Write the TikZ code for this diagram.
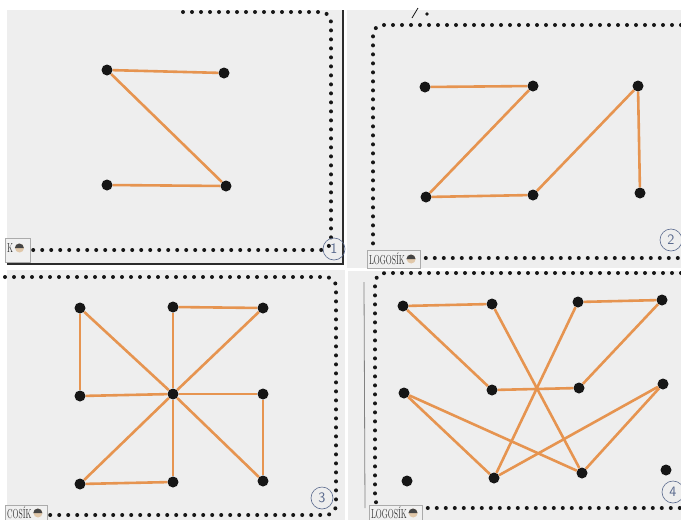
\documentclass[tikz,border=0pt]{standalone}
\usepackage{fontspec}
\usepackage{tikz}
\usetikzlibrary{positioning}
\usepackage{xcolor}
\definecolor{DG}{RGB}{22,22,22}
\definecolor{OR}{RGB}{230,148,80}
\definecolor{CW}{RGB}{238,238,238}
\definecolor{Pen}{RGB}{88,104,140}
\definecolor{Edge}{RGB}{45,45,45}
\definecolor{Skin}{RGB}{225,200,170}
\newcommand{\logotext}[1]{\scalebox{0.6}[1]{\fontsize{13}{13}\selectfont #1}}

\begin{document}
\begin{tikzpicture}[x=1pt, y=-1pt,
  card/.style={fill=CW, draw=none},
  border/.style={draw=DG, line width=4pt, line cap=round,
                 dash pattern=on 0pt off 9pt, rounded corners=10pt},
  dot/.style={circle, fill=DG, inner sep=0pt, minimum size=11pt},
  rope/.style={draw=OR, line width=2.6pt},
  num/.style={circle, draw=Pen, semithick, inner sep=0.5pt, minimum size=22pt,
              text=Pen, font=\sffamily\Large},
  logo/.style={inner sep=1pt, text=Edge},
  face/.style={circle, fill=Skin, inner sep=0pt, minimum size=9pt}
]
\useasboundingbox (0,0) rectangle (681,520);
\fill[white] (0,0) rectangle (681,520);

% Cards
\fill[card] (7,10) rectangle (343,264);
\fill[card] (347,10) rectangle (681,268);
\fill[card] (7,270) rectangle (345,520);
\fill[card] (348,271) rectangle (681,520);
\draw[Edge, line width=1.4pt] (7,264) -- (343,264) -- (343,10);
\draw[Edge!60, line width=0.8pt] (364,282) -- (365,508);
\draw[DG, line width=0.8pt] (412,18) -- (418,8);
\fill[DG] (427,14) circle (1.8);

% Dotted borders
\draw[border] (183,12) -- (331,12) -- (331,250) -- (33,250);
\draw[border] (681,25) -- (373,25) -- (373,258) -- (681,258);
\draw[border] (5,277) -- (336,277) -- (336,515) -- (48,515);
\draw[border] (681,273) -- (375,273) -- (375,508) -- (681,508);

% Card 1
\node[dot] (p1a) at (107,70)  {};
\node[dot] (p1b) at (224,73)  {};
\node[dot] (p1c) at (107,185) {};
\node[dot] (p1d) at (226,186) {};
\draw[rope] (p1a) -- (p1b);
\draw[rope] (p1a) -- (p1d);
\draw[rope] (p1c) -- (p1d);

% Card 2
\node[dot] (p2a) at (425,87)  {};
\node[dot] (p2b) at (533,86)  {};
\node[dot] (p2c) at (638,86)  {};
\node[dot] (p2d) at (426,197) {};
\node[dot] (p2e) at (533,195) {};
\node[dot] (p2f) at (640,193) {};
\draw[rope] (p2a) -- (p2b);
\draw[rope] (p2b) -- (p2d);
\draw[rope] (p2d) -- (p2e);
\draw[rope] (p2e) -- (p2c);
\draw[rope] (p2c) -- (p2f);

% Card 3
\node[dot] (p3tl) at (80,308)  {};
\node[dot] (p3tm) at (173,307) {};
\node[dot] (p3tr) at (263,308) {};
\node[dot] (p3ml) at (80,396)  {};
\node[dot] (p3c)  at (173,394) {};
\node[dot] (p3mr) at (263,394) {};
\node[dot] (p3bl) at (80,484)  {};
\node[dot] (p3bm) at (173,482) {};
\node[dot] (p3br) at (263,481) {};
\draw[rope] (p3tl) -- (p3c);
\draw[rope] (p3tl) -- (p3ml);
\draw[rope] (p3ml) -- (p3c);
\draw[rope] (p3tm) -- (p3c);
\draw[rope] (p3tm) -- (p3tr);
\draw[rope] (p3tr) -- (p3c);
\draw[rope] (p3c) -- (p3mr);
\draw[rope] (p3mr) -- (p3br);
\draw[rope] (p3br) -- (p3c);
\draw[rope] (p3c) -- (p3bm);
\draw[rope] (p3bm) -- (p3bl);
\draw[rope] (p3bl) -- (p3c);

% Card 4
\node[dot] (p4a1) at (403,306) {};
\node[dot] (p4a2) at (492,304) {};
\node[dot] (p4a3) at (578,302) {};
\node[dot] (p4a4) at (662,300) {};
\node[dot] (p4b1) at (404,393) {};
\node[dot] (p4b2) at (492,390) {};
\node[dot] (p4b3) at (579,388) {};
\node[dot] (p4b4) at (663,384) {};
\node[dot] (p4c1) at (407,481) {};
\node[dot] (p4c2) at (494,478) {};
\node[dot] (p4c3) at (582,473) {};
\node[dot] (p4c4) at (666,470) {};
\draw[rope] (p4a1) -- (p4a2);
\draw[rope] (p4a1) -- (p4b2);
\draw[rope] (p4b2) -- (p4b3);
\draw[rope] (p4b3) -- (p4a4);
\draw[rope] (p4a4) -- (p4a3);
\draw[rope] (p4a3) -- (p4c2);
\draw[rope] (p4a2) -- (p4c3);
\draw[rope] (p4b1) -- (p4c2);
\draw[rope] (p4b1) -- (p4c3);
\draw[rope] (p4c2) -- (p4b4);
\draw[rope] (p4b4) -- (p4c3);

% Logos
\fill[white!94!black, draw=Edge!40] (5,238) rectangle (30,262);
\fill[white!94!black, draw=Edge!40] (367,250) rectangle (420,268);
\fill[white!94!black, draw=Edge!40] (5,505) rectangle (47,521);
\fill[white!94!black, draw=Edge!40] (369,505) rectangle (422,521);
\node[logo, anchor=west] (lg1) at (6,248) {\logotext{K}};
\node[logo, anchor=west] (lg2) at (368,259) {\logotext{LOGOSÍK}};
\node[logo, anchor=west] (lg3) at (6,513) {\logotext{COSÍK}};
\node[logo, anchor=west] (lg4) at (370,513) {\logotext{LOGOSÍK}};
\foreach \lg in {lg1,lg2,lg3,lg4}{
  \node[face, right=0.5pt of \lg] (f\lg) {};
  \fill[DG!80] (f\lg.west) arc (180:0:4.5pt) -- cycle;
}

% Numbers
\node[num] (n1) at (334,249) {1};
\node[num] (n2) at (671,240) {2};
\node[num] (n3) at (322,498) {3};
\node[num] (n4) at (673,492) {4};
\end{tikzpicture}
\end{document}
